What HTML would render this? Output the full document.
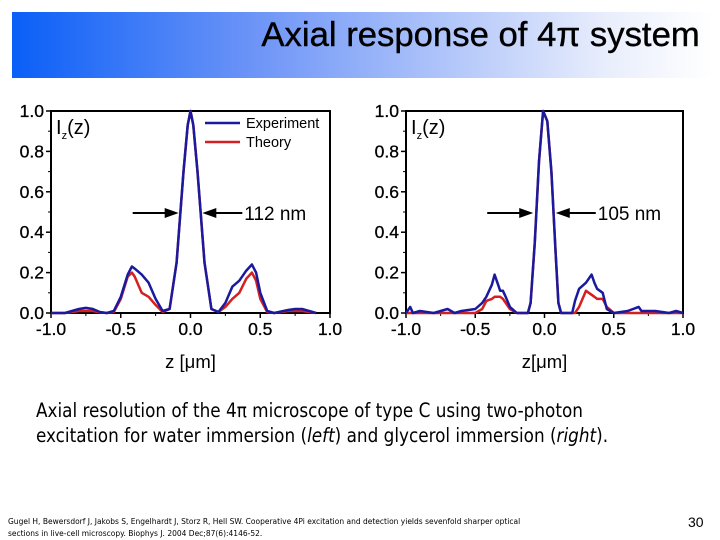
<!DOCTYPE html>
<html><head><meta charset="utf-8"><style>
body{margin:0;width:720px;height:540px;background:#fff;overflow:hidden;font-family:"Liberation Sans",sans-serif;position:relative}
#banner{position:absolute;left:12px;top:12px;width:701px;height:66px;background:linear-gradient(90deg,#0a5ff7 0%,#6e95f7 35%,#e9eefc 85%,#fff 100%)}
#title{position:absolute;right:13px;top:4px;font-size:34px;color:#000;-webkit-text-stroke:0.4px #000;transform:scaleX(1.02);transform-origin:right}
.cap{position:absolute;left:36px;top:398px;font-size:19.5px;line-height:25px;font-family:"DejaVu Sans Condensed","DejaVu Sans",sans-serif;transform:scaleX(0.96);transform-origin:left;white-space:nowrap}
.ref{position:absolute;left:8px;top:516px;font-size:7.5px;line-height:12px;font-family:"DejaVu Sans",sans-serif}
.pg{position:absolute;left:688px;top:514px;font-size:14px}
</style></head><body>
<div id="banner"><div id="title">Axial response of 4π system</div></div>
<svg id="chart" width="720" height="540" style="position:absolute;left:0;top:0"></svg>
<div class="cap">Axial resolution of the 4π microscope of type C using two-photon<br>excitation for water immersion (<i>left</i>) and glycerol immersion (<i>right</i>).</div>
<div class="ref">Gugel H, Bewersdorf J, Jakobs S, Engelhardt J, Storz R, Hell SW. Cooperative 4Pi excitation and detection yields sevenfold sharper optical<br>sections in live-cell microscopy. Biophys J. 2004 Dec;87(6):4146-52.</div>
<div class="pg">30</div>
<script>
const leftZ=[-1,-0.9,-0.85,-0.8,-0.75,-0.7,-0.65,-0.6,-0.55,-0.5,-0.45,-0.42,-0.4,-0.35,-0.3,-0.25,-0.2,-0.15,-0.1,-0.05,-0.02,0,0.02,0.05,0.1,0.15,0.2,0.25,0.3,0.35,0.4,0.44,0.47,0.5,0.55,0.6,0.7,0.75,0.8,0.85,0.9];
const leftExp=[0,0,0.01,0.02,0.025,0.02,0.005,0,0.01,0.08,0.19,0.23,0.22,0.19,0.15,0.07,0.01,0.02,0.25,0.7,0.93,1.0,0.93,0.7,0.25,0.02,0.005,0.05,0.13,0.16,0.21,0.24,0.2,0.1,0.01,0,0.015,0.02,0.02,0.01,0];
const leftThe=[0,0,0.005,0.01,0.01,0.01,0.003,0,0.005,0.07,0.18,0.2,0.18,0.1,0.08,0.04,0.005,0.02,0.25,0.7,0.93,1.0,0.93,0.7,0.25,0.02,0.005,0.03,0.07,0.1,0.17,0.2,0.16,0.07,0.005,0,0.01,0.01,0.01,0.005,0];
const rightZ=[-1,-0.97,-0.95,-0.9,-0.8,-0.7,-0.65,-0.6,-0.5,-0.45,-0.42,-0.38,-0.36,-0.34,-0.32,-0.3,-0.28,-0.25,-0.2,-0.12,-0.1,-0.07,-0.04,-0.01,0.02,0.05,0.08,0.1,0.12,0.2,0.22,0.25,0.3,0.34,0.36,0.38,0.42,0.45,0.5,0.6,0.68,0.7,0.8,0.9,0.95,1];
const rightExp=[0,0.03,0,0.01,0,0.02,0,0.01,0.02,0.05,0.08,0.14,0.19,0.15,0.11,0.11,0.08,0.03,0,0,0.05,0.35,0.75,1.0,0.95,0.7,0.3,0.05,0,0,0.06,0.12,0.15,0.19,0.15,0.12,0.1,0.02,0,0.01,0.03,0.01,0.01,0,0.01,0];
const rightThe=[0,0,0,0,0,0,0,0,0,0.02,0.06,0.07,0.08,0.08,0.08,0.07,0.05,0.02,0,0,0.05,0.35,0.75,1.0,0.95,0.7,0.3,0.05,0,0,0,0.03,0.11,0.09,0.08,0.07,0.07,0.03,0,0,0,0,0,0,0,0];
const xTicks=["-1.0","-0.5","0.0","0.5","1.0"];
const yTicks=["0.0","0.2","0.4","0.6","0.8","1.0"];
const NS="http://www.w3.org/2000/svg";
const svg=document.getElementById('chart');
function mk(t,a,p){const e=document.createElementNS(NS,t);for(const k in a)e.setAttribute(k,a[k]);(p||svg).appendChild(e);return e;}
function panel(x0,x1,z,exp,the,fwhm,xlab,name,legend){
 const y0=313,y1=111;
 const g=mk('g',{});
 
 
 const X=v=>x0+(v+1)/2*(x1-x0), Y=v=>y0-v*(y0-y1);
 mk('rect',{x:x0,y:y1,width:x1-x0,height:y0-y1,fill:'none',stroke:'#000','stroke-width':2},g);
 xTicks.forEach(t=>{const v=parseFloat(t);mk('line',{x1:X(v),x2:X(v),y1:y0,y2:y0+5,stroke:'#000','stroke-width':1.5},g);
  const tx=mk('text',{x:X(v),y:y0+22,'text-anchor':'middle','font-size':17.5,stroke:'#000','stroke-width':0.3},g);tx.textContent=t;});
 for(let v=-0.75;v<1;v+=0.5)mk('line',{x1:X(v),x2:X(v),y1:y0,y2:y0+3,stroke:'#000'},g);
 yTicks.forEach(t=>{const v=parseFloat(t);mk('line',{x1:x0-5,x2:x0,y1:Y(v),y2:Y(v),stroke:'#000','stroke-width':1.5},g);
  const tx=mk('text',{x:x0-7,y:Y(v)+6,'text-anchor':'end','font-size':17.5,stroke:'#000','stroke-width':0.3},g);tx.textContent=t;});
 for(let v=0.1;v<1;v+=0.2)mk('line',{x1:x0-3,x2:x0,y1:Y(v),y2:Y(v),stroke:'#000'},g);
 const lab=mk('text',{x:(x0+x1)/2,y:368,'text-anchor':'middle','font-size':18.5},g);lab.textContent=xlab;
 const iz=mk('text',{x:x0+5,y:134,'font-size':20},g);iz.innerHTML='I<tspan font-size="11" dy="5">z</tspan><tspan dy="-5">(z)</tspan>';
 const pth=(arr,col,nm)=>{const p=mk('path',{d:arr.map((v,i)=>(i?'L':'M')+X(z[i]).toFixed(1)+','+Y(v).toFixed(1)).join(''),fill:'none',stroke:col,'stroke-width':2.5,'stroke-linejoin':'round'},g);
  };
 pth(the,'#d42020','theory-line');pth(exp,'#1a1a9e','experiment-line');
 const ay=Y(0.495),c=X(0),h=fwhm/2000*(x1-x0)/2+4;
 mk('line',{x1:c-h-46,x2:c-h-8,y1:ay,y2:ay,stroke:'#000','stroke-width':2},g);
 mk('polygon',{points:`${c-h},${ay} ${c-h-14},${ay-5} ${c-h-14},${ay+5}`},g);
 mk('line',{x1:c+h+8,x2:c+h+40,y1:ay,y2:ay,stroke:'#000','stroke-width':2},g);
 mk('polygon',{points:`${c+h},${ay} ${c+h+14},${ay-5} ${c+h+14},${ay+5}`},g);
 const ft=mk('text',{x:c+h+42,y:ay+7,'font-size':19},g);ft.textContent=fwhm+' nm';
 if(legend){
  mk('line',{x1:205,x2:240,y1:123,y2:123,stroke:'#1a1a9e','stroke-width':2.5},g);
  mk('line',{x1:205,x2:240,y1:142,y2:142,stroke:'#d42020','stroke-width':2.5},g);
  const l1=mk('text',{x:246,y:128,'font-size':14.5},g);l1.textContent='Experiment';
  
  const l2=mk('text',{x:246,y:147,'font-size':14.5},g);l2.textContent='Theory';
  
 }
}
panel(51,330,leftZ,leftExp,leftThe,112,'z [μm]','left-chart',true);
panel(406,683,rightZ,rightExp,rightThe,105,'z[μm]','right-chart',false);
</script>
</body></html>
